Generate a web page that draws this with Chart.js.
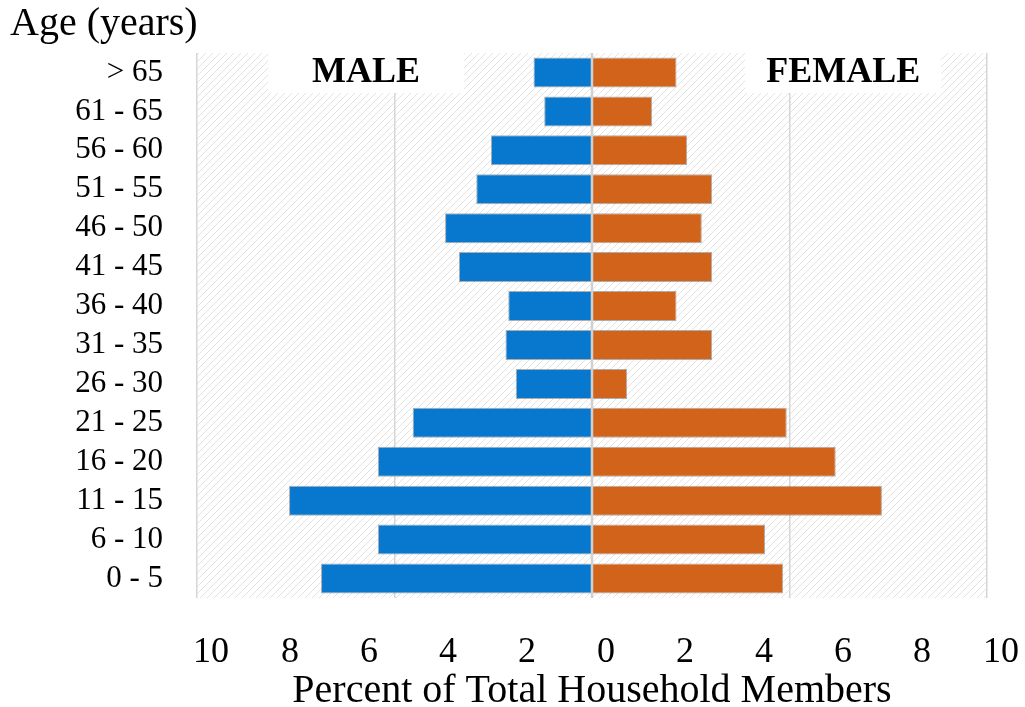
<!DOCTYPE html>
<html lang="en">
<head>
  <meta charset="UTF-8" />
  <title>Age Pyramid</title>
  <script src="https://cdn.jsdelivr.net/npm/chart.js"></script>
  <style>
    html, body { margin: 0; padding: 0; background: #fff; }
    #wrap { width: 1025px; height: 707px; }
  </style>
</head>
<body>
  <div id="wrap"><canvas id="pyramid"></canvas></div>

  <script>
    // age groups, top row first
    const ageGroups = ['> 65', '61 - 65', '56 - 60', '51 - 55', '46 - 50', '41 - 45', '36 - 40',
                       '31 - 35', '26 - 30', '21 - 25', '16 - 20', '11 - 15', '6 - 10', '0 - 5'];
    const malePct   = [1.48, 1.21, 2.56, 2.93, 3.72, 3.37, 2.12, 2.19, 1.93, 4.54, 5.42, 7.67, 5.42, 6.86];
    const femalePct = [2.14, 1.52, 2.41, 3.04, 2.78, 3.04, 2.14, 3.04, 0.89, 4.93, 6.17, 7.34, 4.38, 4.84];
    const sideNames = ['MALE', 'FEMALE'];

    const SERIF = "'Liberation Serif', 'DejaVu Serif', serif";

    // light diagonal hatch for the plot background
    function makeHatch() {
      const c = document.createElement('canvas');
      c.width = 7; c.height = 7;
      const g = c.getContext('2d');
      g.fillStyle = '#ffffff';
      g.fillRect(0, 0, 7, 7);
      g.strokeStyle = '#e3e3e3';
      g.lineWidth = 1;
      g.beginPath();
      g.moveTo(0, 7); g.lineTo(7, 0);
      g.moveTo(-1, 1); g.lineTo(1, -1);
      g.moveTo(6, 8); g.lineTo(8, 6);
      g.stroke();
      return g.createPattern(c, 'repeat');
    }

    const plotDecor = {
      id: 'plotDecor',
      beforeDraw(chart) {
        const { ctx, chartArea: a } = chart;
        ctx.save();
        ctx.fillStyle = makeHatch();
        ctx.fillRect(a.left, a.top, a.right - a.left, a.bottom - a.top);
        ctx.restore();
      },
      beforeDatasetsDraw(chart) {
        // white boxes with MALE / FEMALE
        const { ctx, chartArea: a, scales } = chart;
        const xs = scales.x;
        const centers = [xs.getPixelForValue(-5.72), xs.getPixelForValue(6.36)];
        ctx.save();
        ctx.font = 'bold 36px ' + SERIF;
        ctx.textAlign = 'center';
        ctx.textBaseline = 'alphabetic';
        sideNames.forEach((name, i) => {
          ctx.fillStyle = '#ffffff';
          ctx.fillRect(centers[i] - 98, a.top - 1, 196, 41);
          ctx.fillStyle = '#000000';
          ctx.fillText(name, centers[i], a.top + 29);
        });
        ctx.restore();
      },
      afterDatasetsDraw(chart) {
        // zero line sits on top of the bars
        const { ctx, chartArea: a, scales } = chart;
        const x0 = scales.x.getPixelForValue(0);
        ctx.save();
        ctx.strokeStyle = '#d0d0d0';
        ctx.lineWidth = 2.5;
        ctx.beginPath();
        ctx.moveTo(x0, a.top);
        ctx.lineTo(x0, a.bottom);
        ctx.stroke();
        ctx.restore();
      }
    };

    new Chart(document.getElementById('pyramid').getContext('2d'), {
      type: 'bar',
      data: {
        labels: ageGroups,
        datasets: [
          {
            label: 'Male',
            data: malePct.map(v => -v),
            backgroundColor: '#0778ce',
            borderColor: 'rgba(110,110,110,0.55)',
            borderWidth: 1,
            borderSkipped: false,
            xAxisID: 'x'
          },
          {
            label: 'Female',
            data: femalePct,
            backgroundColor: '#d2631b',
            borderColor: 'rgba(110,110,110,0.55)',
            borderWidth: 1,
            borderSkipped: false,
            xAxisID: 'x'
          }
        ]
      },
      options: {
        indexAxis: 'y',
        responsive: true,
        maintainAspectRatio: false,
        animation: false,
        categoryPercentage: 1,
        barPercentage: 0.77,
        layout: { padding: { left: 10, right: 38, top: 0, bottom: 0 } },
        plugins: {
          legend: { display: false },
          tooltip: { enabled: false },
          title: {
            display: true,
            text: 'Age (years)',
            align: 'start',
            color: '#000',
            font: { family: SERIF, size: 40, weight: 'normal', lineHeight: 1.2 },
            padding: { top: 0, bottom: 5 }
          }
        },
        scales: {
          x: {
            type: 'linear',
            position: 'bottom',
            stacked: true,
            min: -10, max: 10,
            grid: { display: false },
            border: { display: false },
            ticks: {
              stepSize: 2,
              color: '#000',
              padding: 25,
              labelOffset: 14,
              maxRotation: 0,
              font: { family: SERIF, size: 36 },
              callback: v => Math.abs(v)
            },
            title: {
              display: true,
              text: 'Percent of Total Household Members',
              color: '#000',
              font: { family: SERIF, size: 40, lineHeight: 1.0 },
              padding: { top: 0, bottom: -4 }
            },
            afterFit: s => { s.height = 109; s.paddingLeft = 0; s.paddingRight = 0; }
          },
          x2: {
            type: 'linear',
            position: 'bottom',
            min: -10, max: 10,
            ticks: { display: false, stepSize: 5 },
            grid: { color: '#d6d6d6', lineWidth: 1.5, drawTicks: false },
            border: { display: false },
            afterFit: s => { s.height = 0; s.paddingLeft = 0; s.paddingRight = 0; }
          },
          y: {
            stacked: true,
            grid: { display: false, drawTicks: false },
            border: { display: false },
            ticks: {
              color: '#000',
              padding: 34,
              autoSkip: false,
              font: { family: SERIF, size: 31 }
            },
            afterFit: s => { s.width = 187; }
          }
        }
      },
      plugins: [plotDecor]
    });
  </script>
</body>
</html>
